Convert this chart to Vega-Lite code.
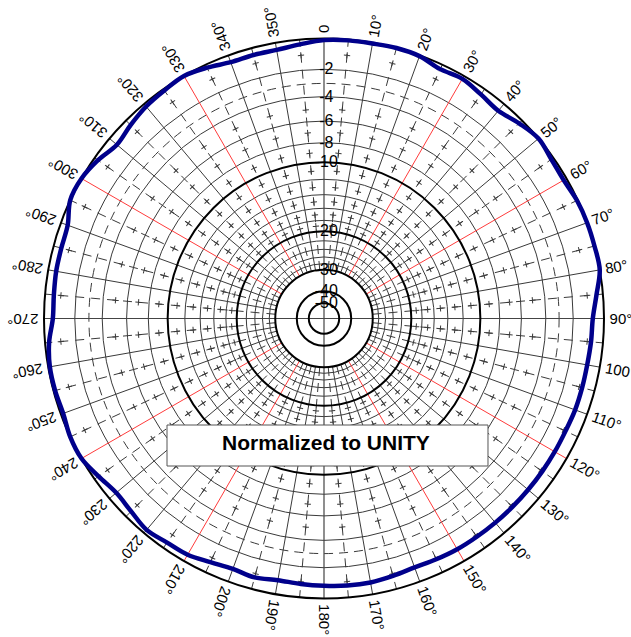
{
  "$schema": "https://vega.github.io/schema/vega-lite/v6.json",
  "autosize": {"type": "none"},
  "padding": {"left": 17, "top": 0, "right": 0, "bottom": 0},
  "width": 614,
  "height": 637,
  "background": "white",
  "config": {"view": {"stroke": null}},
  "datasets": {
    "rings": [
      {"db": 0}, {"db": -2}, {"db": -3}, {"db": -4}, {"db": -6}, {"db": -8}, {"db": -10},
      {"db": -12}, {"db": -14}, {"db": -16}, {"db": -18}, {"db": -20},
      {"db": -22}, {"db": -24}, {"db": -26}, {"db": -28}, {"db": -30}, {"db": -40}, {"db": -50}
    ],
    "spokes": [
      {"az": 0}, {"az": 5}, {"az": 10}, {"az": 15}, {"az": 20}, {"az": 25}, {"az": 30}, {"az": 35},
      {"az": 40}, {"az": 45}, {"az": 50}, {"az": 55}, {"az": 60}, {"az": 65}, {"az": 70}, {"az": 75},
      {"az": 80}, {"az": 85}, {"az": 90}, {"az": 95}, {"az": 100}, {"az": 105}, {"az": 110}, {"az": 115},
      {"az": 120}, {"az": 125}, {"az": 130}, {"az": 135}, {"az": 140}, {"az": 145}, {"az": 150}, {"az": 155},
      {"az": 160}, {"az": 165}, {"az": 170}, {"az": 175}, {"az": 180}, {"az": 185}, {"az": 190}, {"az": 195},
      {"az": 200}, {"az": 205}, {"az": 210}, {"az": 215}, {"az": 220}, {"az": 225}, {"az": 230}, {"az": 235},
      {"az": 240}, {"az": 245}, {"az": 250}, {"az": 255}, {"az": 260}, {"az": 265}, {"az": 270}, {"az": 275},
      {"az": 280}, {"az": 285}, {"az": 290}, {"az": 295}, {"az": 300}, {"az": 305}, {"az": 310}, {"az": 315},
      {"az": 320}, {"az": 325}, {"az": 330}, {"az": 335}, {"az": 340}, {"az": 345}, {"az": 350}, {"az": 355}
    ],
    "pattern": [
      {"az": 0, "db": -0.1}, {"az": 5, "db": -0.05}, {"az": 10, "db": -0.05}, {"az": 15, "db": 0},
      {"az": 20, "db": -0.05}, {"az": 25, "db": -0.3}, {"az": 30, "db": -0.2}, {"az": 35, "db": -0.4},
      {"az": 40, "db": -0.55}, {"az": 45, "db": -0.25}, {"az": 50, "db": 0}, {"az": 55, "db": -0.15},
      {"az": 60, "db": -0.2}, {"az": 65, "db": -0.05}, {"az": 70, "db": 0}, {"az": 75, "db": 0},
      {"az": 80, "db": 0}, {"az": 85, "db": -0.4}, {"az": 90, "db": -0.7}, {"az": 95, "db": -0.75},
      {"az": 100, "db": -0.8}, {"az": 105, "db": -0.8}, {"az": 110, "db": -0.8}, {"az": 115, "db": -0.85},
      {"az": 120, "db": -0.85}, {"az": 125, "db": -0.85}, {"az": 130, "db": -0.85}, {"az": 135, "db": -0.85},
      {"az": 140, "db": -0.85}, {"az": 145, "db": -0.85}, {"az": 150, "db": -0.85}, {"az": 155, "db": -0.9},
      {"az": 160, "db": -0.95}, {"az": 165, "db": -0.85}, {"az": 170, "db": -0.75}, {"az": 175, "db": -0.75},
      {"az": 180, "db": -0.8}, {"az": 185, "db": -0.85}, {"az": 190, "db": -0.9}, {"az": 195, "db": -0.75},
      {"az": 200, "db": -0.85}, {"az": 205, "db": -0.7}, {"az": 210, "db": -0.45}, {"az": 215, "db": -0.4},
      {"az": 220, "db": -0.25}, {"az": 225, "db": -0.45}, {"az": 230, "db": -0.55}, {"az": 235, "db": -0.3},
      {"az": 240, "db": 0}, {"az": 245, "db": 0}, {"az": 250, "db": -0.15}, {"az": 255, "db": -0.1},
      {"az": 260, "db": -0.1}, {"az": 265, "db": -0.25}, {"az": 270, "db": -0.55}, {"az": 275, "db": -0.55},
      {"az": 280, "db": -0.5}, {"az": 285, "db": -0.5}, {"az": 290, "db": -0.45}, {"az": 295, "db": 0},
      {"az": 300, "db": 0}, {"az": 305, "db": -0.25}, {"az": 310, "db": -0.6}, {"az": 315, "db": -0.4},
      {"az": 320, "db": -0.2}, {"az": 325, "db": -0.1}, {"az": 330, "db": 0}, {"az": 335, "db": -0.2},
      {"az": 340, "db": -0.45}, {"az": 345, "db": -0.45}, {"az": 350, "db": -0.45}, {"az": 355, "db": -0.3}
    ]
  },
  "layer": [
    {
      "data": {"name": "rings"},
      "transform": [
        {"filter": "datum.db % 10 != 0 && datum.db != -3"},
        {"calculate": "pow(0.89, -datum.db/2)", "as": "r"}
      ],
      "mark": {"type": "point", "shape": "circle", "filled": false, "stroke": "#3a3a3a", "strokeWidth": 1, "opacity": 1},
      "encoding": {
        "x": {"datum": 0, "type": "quantitative", "scale": {"domain": [-1.096429, 1.096429], "nice": false, "zero": false}, "axis": null},
        "y": {"datum": 0, "type": "quantitative", "scale": {"domain": [-1.1375, 1.1375], "nice": false, "zero": false}, "axis": null},
        "size": {"field": "r", "type": "quantitative", "scale": {"type": "pow", "exponent": 2, "domain": [0, 1], "range": [0, 313600], "zero": true, "nice": false}, "legend": null}
      }
    },
    {
      "data": {"name": "rings"},
      "transform": [
        {"filter": "datum.db == -3"},
        {"calculate": "pow(0.89, -datum.db/2)", "as": "r"}
      ],
      "mark": {"type": "point", "shape": "circle", "filled": false, "stroke": "#3a3a3a", "strokeWidth": 1, "strokeDash": [9, 6], "opacity": 1},
      "encoding": {
        "x": {"datum": 0, "type": "quantitative", "scale": {"domain": [-1.096429, 1.096429], "nice": false, "zero": false}, "axis": null},
        "y": {"datum": 0, "type": "quantitative", "scale": {"domain": [-1.1375, 1.1375], "nice": false, "zero": false}, "axis": null},
        "size": {"field": "r", "type": "quantitative", "scale": {"type": "pow", "exponent": 2, "domain": [0, 1], "range": [0, 313600], "zero": true, "nice": false}, "legend": null}
      }
    },
    {
      "data": {"name": "spokes"},
      "transform": [
        {"filter": "datum.az % 10 == 0 && datum.az % 30 != 0"},
        {"calculate": "pow(0.89, 15)", "as": "r0"},
        {"calculate": "datum.r0 * sin(datum.az * PI / 180)", "as": "x0"},
        {"calculate": "datum.r0 * cos(datum.az * PI / 180)", "as": "y0"},
        {"calculate": "sin(datum.az * PI / 180)", "as": "x1"},
        {"calculate": "cos(datum.az * PI / 180)", "as": "y1"}
      ],
      "mark": {"type": "rule", "stroke": "#3a3a3a", "strokeWidth": 1},
      "encoding": {
        "x": {"field": "x0", "type": "quantitative", "scale": {"domain": [-1.096429, 1.096429], "nice": false, "zero": false}, "axis": null},
        "y": {"field": "y0", "type": "quantitative", "scale": {"domain": [-1.1375, 1.1375], "nice": false, "zero": false}, "axis": null},
        "x2": {"field": "x1"},
        "y2": {"field": "y1"}
      }
    },
    {
      "data": {"name": "spokes"},
      "transform": [
        {"filter": "datum.az % 10 == 5"},
        {"calculate": "pow(0.89, 15)", "as": "r0"},
        {"calculate": "datum.r0 * sin(datum.az * PI / 180)", "as": "x0"},
        {"calculate": "datum.r0 * cos(datum.az * PI / 180)", "as": "y0"},
        {"calculate": "sin(datum.az * PI / 180)", "as": "x1"},
        {"calculate": "cos(datum.az * PI / 180)", "as": "y1"}
      ],
      "mark": {"type": "rule", "stroke": "#3a3a3a", "strokeWidth": 1, "strokeDash": [9, 7]},
      "encoding": {
        "x": {"field": "x0", "type": "quantitative", "scale": {"domain": [-1.096429, 1.096429], "nice": false, "zero": false}, "axis": null},
        "y": {"field": "y0", "type": "quantitative", "scale": {"domain": [-1.1375, 1.1375], "nice": false, "zero": false}, "axis": null},
        "x2": {"field": "x1"},
        "y2": {"field": "y1"}
      }
    },
    {
      "data": {"name": "spokes"},
      "transform": [
        {"filter": "datum.az % 10 == 5"},
        {"calculate": "[-1, -5, -7, -9, -11, -13, -15, -17, -19]", "as": "lv"},
        {"flatten": ["lv"]},
        {"calculate": "pow(0.89, -datum.lv/2)", "as": "r"},
        {"calculate": "datum.r * sin(datum.az * PI / 180)", "as": "tx"},
        {"calculate": "datum.r * cos(datum.az * PI / 180)", "as": "ty"}
      ],
      "mark": {"type": "point", "shape": "M0,-1L0,1M-1,0L1,0", "filled": false, "stroke": "#3a3a3a", "strokeWidth": 1, "size": 40, "opacity": 1},
      "encoding": {
        "x": {"field": "tx", "type": "quantitative", "scale": {"domain": [-1.096429, 1.096429], "nice": false, "zero": false}, "axis": null},
        "y": {"field": "ty", "type": "quantitative", "scale": {"domain": [-1.1375, 1.1375], "nice": false, "zero": false}, "axis": null},
        "angle": {"field": "az", "type": "quantitative", "scale": {"domain": [0, 360], "range": [-90, 270], "nice": false, "zero": false}}
      }
    },
    {
      "data": {"name": "spokes"},
      "transform": [
        {"filter": "datum.az % 30 == 0 && datum.az % 90 != 0"},
        {"calculate": "pow(0.89, 15)", "as": "r0"},
        {"calculate": "datum.r0 * sin(datum.az * PI / 180)", "as": "x0"},
        {"calculate": "datum.r0 * cos(datum.az * PI / 180)", "as": "y0"},
        {"calculate": "sin(datum.az * PI / 180)", "as": "x1"},
        {"calculate": "cos(datum.az * PI / 180)", "as": "y1"}
      ],
      "mark": {"type": "rule", "stroke": "#ff3b3b", "strokeWidth": 1},
      "encoding": {
        "x": {"field": "x0", "type": "quantitative", "scale": {"domain": [-1.096429, 1.096429], "nice": false, "zero": false}, "axis": null},
        "y": {"field": "y0", "type": "quantitative", "scale": {"domain": [-1.1375, 1.1375], "nice": false, "zero": false}, "axis": null},
        "x2": {"field": "x1"},
        "y2": {"field": "y1"}
      }
    },
    {
      "data": {"name": "spokes"},
      "transform": [
        {"filter": "datum.az % 90 == 0"},
        {"calculate": "0 * datum.az", "as": "x0"},
        {"calculate": "0 * datum.az", "as": "y0"},
        {"calculate": "sin(datum.az * PI / 180)", "as": "x1"},
        {"calculate": "cos(datum.az * PI / 180)", "as": "y1"}
      ],
      "mark": {"type": "rule", "stroke": "#444444", "strokeWidth": 1.2},
      "encoding": {
        "x": {"field": "x0", "type": "quantitative", "scale": {"domain": [-1.096429, 1.096429], "nice": false, "zero": false}, "axis": null},
        "y": {"field": "y0", "type": "quantitative", "scale": {"domain": [-1.1375, 1.1375], "nice": false, "zero": false}, "axis": null},
        "x2": {"field": "x1"},
        "y2": {"field": "y1"}
      }
    },
    {
      "data": {"name": "rings"},
      "transform": [
        {"filter": "datum.db % 10 == 0"},
        {"calculate": "pow(0.89, -datum.db/2)", "as": "r"}
      ],
      "mark": {"type": "point", "shape": "circle", "filled": false, "stroke": "#000000", "strokeWidth": 2, "opacity": 1},
      "encoding": {
        "x": {"datum": 0, "type": "quantitative", "scale": {"domain": [-1.096429, 1.096429], "nice": false, "zero": false}, "axis": null},
        "y": {"datum": 0, "type": "quantitative", "scale": {"domain": [-1.1375, 1.1375], "nice": false, "zero": false}, "axis": null},
        "size": {"field": "r", "type": "quantitative", "scale": {"type": "pow", "exponent": 2, "domain": [0, 1], "range": [0, 313600], "zero": true, "nice": false}, "legend": null}
      }
    },
    {
      "data": {"name": "spokes"},
      "transform": [
        {"filter": "datum.az % 10 == 0"},
        {"calculate": "datum.az == 0 ? '0' : datum.az + '°'", "as": "label"},
        {"calculate": "1.02 * sin(datum.az * PI / 180)", "as": "lx"},
        {"calculate": "1.02 * cos(datum.az * PI / 180)", "as": "ly"}
      ],
      "mark": {"type": "text", "align": "left", "baseline": "middle", "font": "Liberation Sans", "fontSize": 15, "color": "#000000"},
      "encoding": {
        "x": {"field": "lx", "type": "quantitative", "scale": {"domain": [-1.096429, 1.096429], "nice": false, "zero": false}, "axis": null},
        "y": {"field": "ly", "type": "quantitative", "scale": {"domain": [-1.1375, 1.1375], "nice": false, "zero": false}, "axis": null},
        "angle": {"field": "az", "type": "quantitative", "scale": {"domain": [0, 360], "range": [-90, 270], "nice": false, "zero": false}},
        "text": {"field": "label", "type": "nominal"}
      }
    },
    {
      "data": {"name": "rings"},
      "transform": [
        {"filter": "datum.db != 0 && datum.db != -3 && (datum.db > -10 || datum.db % 10 == 0)"},
        {"calculate": "pow(0.89, -datum.db/2)", "as": "r"},
        {"calculate": "toString(datum.db)", "as": "label"}
      ],
      "mark": {"type": "text", "align": "center", "baseline": "middle", "font": "Liberation Sans", "fontSize": 16, "color": "#000000"},
      "encoding": {
        "x": {"datum": 0.008, "type": "quantitative", "scale": {"domain": [-1.096429, 1.096429], "nice": false, "zero": false}, "axis": null},
        "y": {"field": "r", "type": "quantitative", "scale": {"domain": [-1.1375, 1.1375], "nice": false, "zero": false}, "axis": null},
        "text": {"field": "label", "type": "nominal"}
      }
    },
    {
      "data": {"values": [{"note": "Normalized to UNITY"}]},
      "mark": {"type": "rect", "fill": "#ffffff", "stroke": "#555555", "strokeWidth": 1},
      "encoding": {
        "x": {"datum": -0.5607, "type": "quantitative", "scale": {"domain": [-1.096429, 1.096429], "nice": false, "zero": false}, "axis": null},
        "x2": {"datum": 0.5857},
        "y": {"datum": -0.3804, "type": "quantitative", "scale": {"domain": [-1.1375, 1.1375], "nice": false, "zero": false}, "axis": null},
        "y2": {"datum": -0.5268}
      }
    },
    {
      "data": {"values": [{"note": "Normalized to UNITY"}]},
      "mark": {"type": "text", "align": "center", "baseline": "middle", "font": "Liberation Sans", "fontSize": 21, "fontWeight": "bold", "color": "#000000"},
      "encoding": {
        "x": {"datum": 0.007, "type": "quantitative", "scale": {"domain": [-1.096429, 1.096429], "nice": false, "zero": false}, "axis": null},
        "y": {"datum": -0.448, "type": "quantitative", "scale": {"domain": [-1.1375, 1.1375], "nice": false, "zero": false}, "axis": null},
        "text": {"field": "note", "type": "nominal"}
      }
    },
    {
      "data": {"name": "pattern"},
      "transform": [
        {"calculate": "pow(0.89, -datum.db/2)", "as": "r"},
        {"calculate": "datum.r * sin(datum.az * PI / 180)", "as": "px"},
        {"calculate": "datum.r * cos(datum.az * PI / 180)", "as": "py"}
      ],
      "mark": {"type": "line", "interpolate": "cardinal-closed", "stroke": "#00008b", "strokeWidth": 4.5},
      "encoding": {
        "x": {"field": "px", "type": "quantitative", "scale": {"domain": [-1.096429, 1.096429], "nice": false, "zero": false}, "axis": null},
        "y": {"field": "py", "type": "quantitative", "scale": {"domain": [-1.1375, 1.1375], "nice": false, "zero": false}, "axis": null},
        "order": {"field": "az", "type": "quantitative"}
      }
    }
  ]
}
